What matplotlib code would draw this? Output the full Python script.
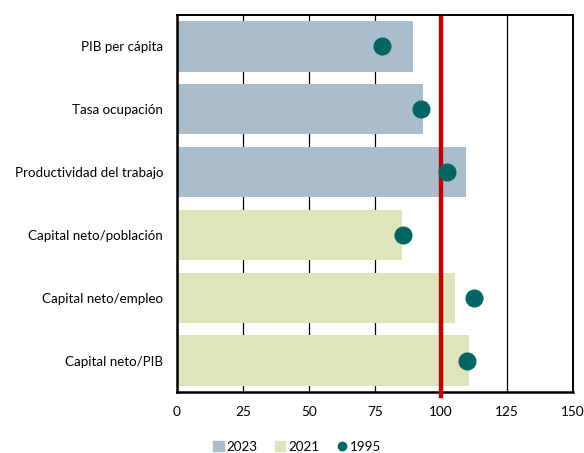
import numpy as np
import matplotlib.pyplot as plt
from matplotlib.patches import Patch
from matplotlib.lines import Line2D

plt.rcParams['font.family'] = ['Lato', 'DejaVu Sans']

categories = ['PIB per cápita', 'Tasa ocupación', 'Productividad del trabajo',
              'Capital neto/población', 'Capital neto/empleo', 'Capital neto/PIB']
bar_values = [89.3, 93.0, 109.3, 85.1, 105.2, 110.5]
bar_years = ['2023', '2023', '2023', '2021', '2021', '2021']
dots_1995 = [77.8, 92.4, 102.3, 85.7, 112.6, 109.7]
x_ticks = [0, 25, 50, 75, 100, 125, 150]

col_2023 = '#abbccc'
col_2021 = '#dde5bc'
col_dot = '#006661'
col_ref = '#c00000'

fig = plt.figure(figsize=(5.84, 4.53), dpi=100)
ax = fig.add_axes([177 / 584, 1 - 392 / 453, 396 / 584, 377 / 453])

y = np.arange(len(categories))
colors = [col_2023 if yr == '2023' else col_2021 for yr in bar_years]
ax.barh(y, bar_values, height=0.8, color=colors, zorder=2)
ax.plot(dots_1995, y, 'o', color=col_dot, markersize=12, zorder=4)
ax.axvline(100, color=col_ref, linewidth=3.2, ymin=-0.01, ymax=0.993,
           clip_on=False, zorder=3)

ax.set_xlim(0, 150)
ax.set_ylim(len(categories) - 0.5, -0.5)
ax.set_xticks(x_ticks)
ax.set_yticks(y)
ax.set_yticklabels(categories)
ax.tick_params(axis='y', length=0, pad=10, labelsize=9.6)
ax.tick_params(axis='x', length=0, pad=10, labelsize=9.8)
ax.grid(axis='x', color='black', linewidth=0.9, zorder=0)
ax.set_axisbelow(True)
for side in ['left', 'bottom']:
    ax.spines[side].set_linewidth(1.8)
for side in ['top', 'right']:
    ax.spines[side].set_linewidth(1.4)

handles = [Patch(color=col_2023, label='2023'),
           Patch(color=col_2021, label='2021'),
           Line2D([], [], marker='o', linestyle='', color=col_dot,
                  markersize=6, label='1995')]
fig.legend(handles=handles, loc='center', bbox_to_anchor=(297 / 584, 1 - 447 / 453),
           ncol=3, frameon=False, fontsize=9.6, handlelength=0.8, handleheight=0.8,
           handletextpad=0.2, columnspacing=1.3)

fig.savefig('out.png', dpi=100)
